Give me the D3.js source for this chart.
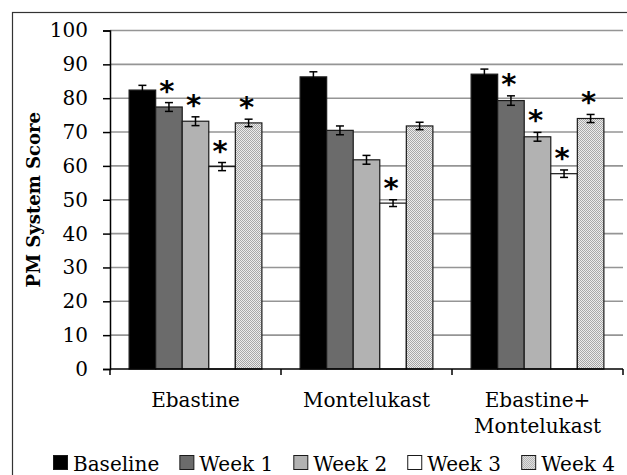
<!DOCTYPE html>
<html>
<head>
<meta charset="utf-8">
<script src="https://cdn.jsdelivr.net/npm/d3@7"></script>
<style>
  html, body { margin: 0; padding: 0; background: #fff; }
  svg { display: block; }
</style>
</head>
<body>
<svg id="chart" width="627" height="475"></svg>
<script>
// ---- data ----
const categories = ["Ebastine", "Montelukast", "Ebastine+\nMontelukast"];
const seriesNames = ["Baseline", "Week 1", "Week 2", "Week 3", "Week 4"];
const baseline = [82.4, 86.3, 87.1];
const week1 = [77.4, 70.5, 79.3];
const week2 = [73.2, 61.8, 68.6];
const week3 = [59.8, 49.0, 57.7];
const week4 = [72.7, 71.8, 74.0];
const errBaseline = [1.4, 1.5, 1.5];
const errWeek1 = [1.3, 1.3, 1.4];
const errWeek2 = [1.3, 1.3, 1.3];
const errWeek3 = [1.2, 1.0, 1.1];
const errWeek4 = [1.1, 1.1, 1.2];
const sigBaseline = [0, 0, 0];
const sigWeek1 = [1, 0, 1];
const sigWeek2 = [1, 0, 1];
const sigWeek3 = [1, 1, 1];
const sigWeek4 = [1, 0, 1];
const yTicks = [0, 10, 20, 30, 40, 50, 60, 70, 80, 90, 100];

const values = [baseline, week1, week2, week3, week4];
const errors = [errBaseline, errWeek1, errWeek2, errWeek3, errWeek4];
const sigs = [sigBaseline, sigWeek1, sigWeek2, sigWeek3, sigWeek4];

const rows = [];
seriesNames.forEach((s, si) => {
  categories.forEach((c, ci) => {
    rows.push({ series: s, si, cat: c, v: values[si][ci], e: errors[si][ci], sig: sigs[si][ci] });
  });
});

// ---- layout ----
const svg = d3.select("#chart");
const pL = 110, pR = 623, pT = 30.5, pB = 369;
const serif = "'DejaVu Serif', serif";

// pattern for week 4
const defs = svg.append("defs");
const pat = defs.append("pattern").attr("id", "dots")
  .attr("patternUnits", "userSpaceOnUse").attr("width", 2).attr("height", 2);
pat.append("rect").attr("width", 2).attr("height", 2).attr("fill", "#ececec");
pat.append("rect").attr("x", 0).attr("y", 0).attr("width", 1).attr("height", 1).attr("fill", "#a8a8a8");
pat.append("rect").attr("x", 1).attr("y", 1).attr("width", 1).attr("height", 1).attr("fill", "#a8a8a8");

const fills = ["#000000", "#6b6b6b", "#b2b2b2", "#ffffff", "url(#dots)"];

// outer frame
svg.append("rect").attr("x", 12.5).attr("y", 12.5).attr("width", 700).attr("height", 600)
  .attr("fill", "none").attr("stroke", "#333").attr("stroke-width", 1.2);

const y = d3.scaleLinear().domain([0, 100]).range([pB, pT]);
const x0 = d3.scaleBand().domain(categories).range([pL, pR]).paddingInner(0).paddingOuter(0);
const x1 = d3.scaleBand().domain(seriesNames).range([0, x0.bandwidth()]).paddingInner(0).paddingOuter(0.72);

// gridlines
svg.append("g").selectAll("line").data(yTicks.filter(t => t > 0)).join("line")
  .attr("x1", pL).attr("x2", pR)
  .attr("y1", d => y(d)).attr("y2", d => y(d))
  .attr("stroke", "#959595").attr("stroke-width", 1.6);

// bars
const barG = svg.append("g");
barG.selectAll("rect").data(rows).join("rect")
  .attr("x", d => x0(d.cat) + x1(d.series))
  .attr("y", d => y(d.v))
  .attr("width", x1.bandwidth())
  .attr("height", d => y(0) - y(d.v))
  .attr("fill", d => fills[d.si])
  .attr("stroke", "#1a1a1a").attr("stroke-width", 1.2);

// error bars
const capW = 8;
const errG = svg.append("g").attr("stroke", "#000").attr("stroke-width", 1.5);
rows.forEach(d => {
  const cx = x0(d.cat) + x1(d.series) + x1.bandwidth() / 2;
  const yt = y(d.v + d.e), yb = y(d.v - d.e);
  errG.append("line").attr("x1", cx).attr("x2", cx).attr("y1", yt).attr("y2", yb);
  errG.append("line").attr("x1", cx - capW / 2).attr("x2", cx + capW / 2).attr("y1", yt).attr("y2", yt);
  errG.append("line").attr("x1", cx - capW / 2).attr("x2", cx + capW / 2).attr("y1", yb).attr("y2", yb);
});

// significance stars
svg.append("g").selectAll("text").data(rows.filter(d => d.sig)).join("text")
  .attr("x", d => x0(d.cat) + x1(d.series) + x1.bandwidth() / 2 - 2)
  .attr("y", d => y(d.v + d.e) - 2)
  .attr("text-anchor", "middle")
  .attr("font-family", "'DejaVu Sans', sans-serif")
  .attr("font-weight", "bold")
  .attr("font-size", 29)
  .attr("fill", "#000")
  .text("*");

// y axis
const yAxis = d3.axisLeft(y).tickValues(yTicks).tickSize(7).tickPadding(15).tickFormat(d3.format("d"));
const yg = svg.append("g").attr("transform", `translate(${pL},0)`).call(yAxis);
yg.select(".domain").attr("stroke", "#000").attr("stroke-width", 1.5);
yg.selectAll(".tick line").attr("stroke", "#000").attr("stroke-width", 1.5);
yg.selectAll(".tick text").attr("font-family", serif).attr("font-size", 20).attr("fill", "#000");

// x axis line and boundary ticks
svg.append("line").attr("x1", pL).attr("x2", pR).attr("y1", pB).attr("y2", pB)
  .attr("stroke", "#000").attr("stroke-width", 1.5);
const bounds = categories.map(c => x0(c)).concat([x0(categories[categories.length - 1]) + x0.bandwidth()]);
svg.append("g").selectAll("line").data(bounds).join("line")
  .attr("x1", d => d).attr("x2", d => d).attr("y1", pB).attr("y2", pB + 6)
  .attr("stroke", "#000").attr("stroke-width", 1.5);

// category labels
const catG = svg.append("g");
categories.forEach(c => {
  const lines = c.split("\n");
  const t = catG.append("text")
    .attr("x", x0(c) + x0.bandwidth() / 2)
    .attr("y", 407)
    .attr("text-anchor", "middle")
    .attr("font-family", serif).attr("font-size", 20).attr("fill", "#000");
  lines.forEach((ln, i) => {
    t.append("tspan").attr("x", x0(c) + x0.bandwidth() / 2).attr("dy", i === 0 ? 0 : 26).text(ln);
  });
});

// y axis title
svg.append("text")
  .attr("transform", `translate(40,${(pT + pB) / 2}) rotate(-90)`)
  .attr("text-anchor", "middle")
  .attr("font-family", serif).attr("font-weight", "bold").attr("font-size", 18)
  .attr("fill", "#000")
  .text("PM System Score");

// legend
const legG = svg.append("g");
const legStart = 53, legEnd = 615, sq = 15, sqGap = 5;
const items = seriesNames.map((s, i) => {
  const g = legG.append("g");
  g.append("rect").attr("x", 0.5).attr("y", -15.5).attr("width", sq - 1).attr("height", sq - 1)
    .attr("fill", fills[i]).attr("stroke", "#1a1a1a").attr("stroke-width", 1);
  const t = g.append("text").attr("x", sq + sqGap).attr("y", 0)
    .attr("font-family", serif).attr("font-size", 20).attr("fill", "#000").text(s);
  return { g, w: sq + sqGap + t.node().getComputedTextLength() };
});
const totalW = d3.sum(items, d => d.w);
const gap = (legEnd - legStart - totalW) / (items.length - 1);
let lx = legStart;
items.forEach(it => {
  it.g.attr("transform", `translate(${lx},471)`);
  lx += it.w + gap;
});
</script>
</body>
</html>
